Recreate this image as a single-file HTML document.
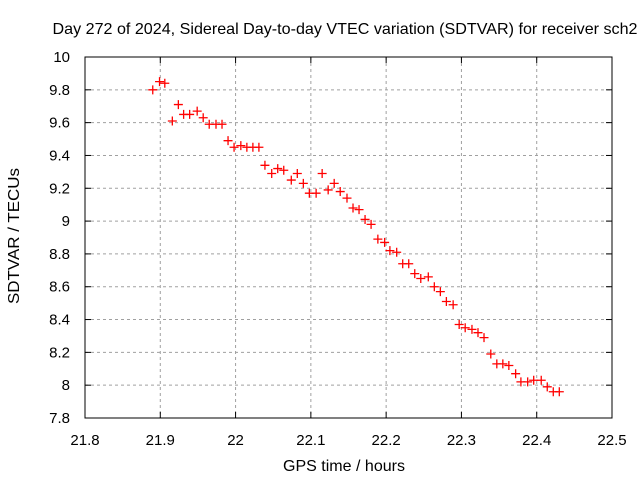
<!DOCTYPE html>
<html><head><meta charset="utf-8"><style>body{margin:0;background:#fff}svg{display:block;font-family:"Liberation Sans",sans-serif}</style></head>
<body>
<svg id="chart" width="640" height="480" xmlns="http://www.w3.org/2000/svg">
<text x="345" y="34" font-size="16" text-anchor="middle" textLength="585" lengthAdjust="spacingAndGlyphs">Day 272 of 2024, Sidereal Day-to-day VTEC variation (SDTVAR) for receiver sch2</text>
<text x="344" y="471" font-size="16" text-anchor="middle" textLength="122" lengthAdjust="spacingAndGlyphs">GPS time / hours</text>
<text transform="translate(19,236) rotate(-90)" font-size="16" text-anchor="middle" textLength="136" lengthAdjust="spacingAndGlyphs">SDTVAR / TECUs</text>
<g id="grid"></g><g id="ticks"></g><g id="pts"></g>
<rect x="85" y="57" width="527" height="361" fill="none" stroke="#000"/>
</svg>
<script>
const xTicks=[21.8,21.9,22,22.1,22.2,22.3,22.4,22.5];
const xTickLabels=["21.8","21.9","22","22.1","22.2","22.3","22.4","22.5"];
const yTicks=[7.8,8,8.2,8.4,8.6,8.8,9,9.2,9.4,9.6,9.8,10];
const yTickLabels=["7.8","8","8.2","8.4","8.6","8.8","9","9.2","9.4","9.6","9.8","10"];
const times=[21.890,21.899,21.906,21.916,21.924,21.931,21.939,21.949,21.957,21.965,21.974,21.982,21.990,21.998,22.007,22.015,22.023,22.031,22.039,22.048,22.056,22.064,22.074,22.082,22.090,22.098,22.107,22.115,22.123,22.131,22.139,22.148,22.156,22.164,22.172,22.180,22.189,22.198,22.205,22.214,22.222,22.230,22.238,22.246,22.256,22.264,22.272,22.280,22.289,22.297,22.305,22.314,22.322,22.330,22.339,22.347,22.355,22.363,22.372,22.379,22.388,22.396,22.406,22.414,22.422,22.430];
const sdtvar=[9.80,9.85,9.84,9.61,9.71,9.65,9.65,9.67,9.63,9.59,9.59,9.59,9.49,9.45,9.46,9.45,9.45,9.45,9.34,9.29,9.32,9.31,9.25,9.29,9.23,9.17,9.17,9.29,9.19,9.23,9.18,9.14,9.08,9.07,9.01,8.98,8.89,8.87,8.82,8.81,8.74,8.74,8.68,8.65,8.66,8.60,8.57,8.51,8.49,8.37,8.35,8.34,8.32,8.29,8.19,8.13,8.13,8.12,8.07,8.02,8.02,8.03,8.03,7.99,7.96,7.96];
const L=85,R=612,T=57,B=418;
const sx=v=>L+(v-21.8)/(22.5-21.8)*(R-L);
const sy=v=>B-(v-7.8)/(10-7.8)*(B-T);
const NS="http://www.w3.org/2000/svg";
function mk(tag,attrs,parent){const e=document.createElementNS(NS,tag);for(const k in attrs)e.setAttribute(k,attrs[k]);parent.appendChild(e);return e;}
const grid=document.getElementById('grid'),ticks=document.getElementById('ticks'),pts=document.getElementById('pts');
xTicks.forEach((v,i)=>{const x=sx(v);
 if(i>0&&i<xTicks.length-1){const g=mk('line',{x1:x,x2:x,y1:T,y2:B,stroke:'#a0a0a0','stroke-dasharray':'3,3'},grid);}
 const t1=mk('line',{x1:x,x2:x,y1:B,y2:B-6,stroke:'#000'},ticks);
 const t2=mk('line',{x1:x,x2:x,y1:T,y2:T+6,stroke:'#000'},ticks);
 const tx=mk('text',{x:x,y:B+27,'font-size':15,'text-anchor':'middle'},ticks);tx.textContent=xTickLabels[i];});
yTicks.forEach((v,i)=>{const y=sy(v);
 if(i>0&&i<yTicks.length-1){const g=mk('line',{x1:L,x2:R,y1:y,y2:y,stroke:'#a0a0a0','stroke-dasharray':'3,3'},grid);}
 const t1=mk('line',{x1:L,x2:L+6,y1:y,y2:y,stroke:'#000'},ticks);
 const t2=mk('line',{x1:R,x2:R-6,y1:y,y2:y,stroke:'#000'},ticks);
 const tx=mk('text',{x:L-15,y:y+5,'font-size':15,'text-anchor':'end'},ticks);tx.textContent=yTickLabels[i];});
times.forEach((t,i)=>{const x=sx(t),y=sy(sdtvar[i]);
 const p=mk('path',{d:`M${x-4.5},${y}H${x+4.5}M${x},${y-4.5}V${y+4.5}`,stroke:'#f00','stroke-width':1.3},pts);
 
 });
</script>
</body></html>
